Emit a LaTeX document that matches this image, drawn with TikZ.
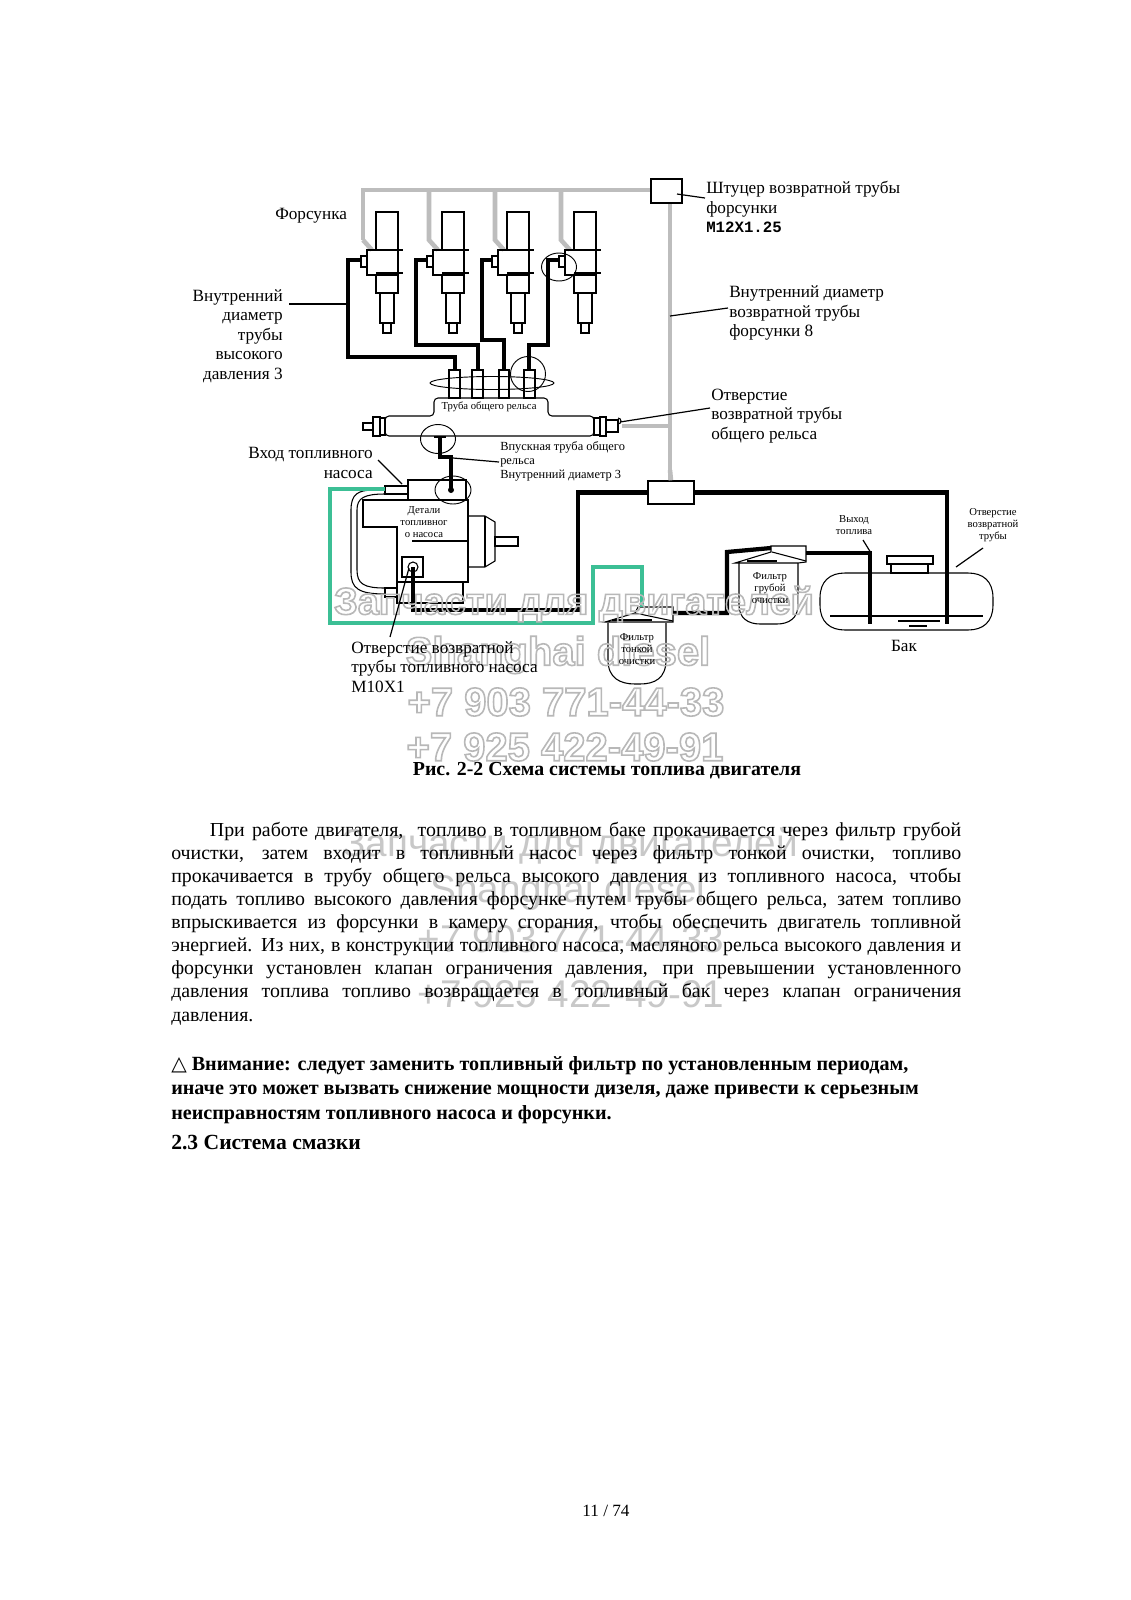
\documentclass[tikz,border=0pt]{standalone}
\usepackage{fontspec}
\setmainfont{Liberation Serif}
\newfontfamily\labelSans{Liberation Sans}
\newfontfamily\labelMono{Liberation Mono}
\newfontfamily\labelSymbol{DejaVu Sans}

\newcommand{\outlineText}[1]{\special{pdf:code 1 Tr 1.2 w 0.72 0.72 0.72 RG}#1\special{pdf:code 0 Tr 0 0 0 RG}}

\begin{document}
\begin{tikzpicture}[x=0.75pt, y=-0.75pt,
    thinPart/.style={draw=black, line width=0.8pt},
    leaderLine/.style={draw=black, line width=0.9pt},
    returnPipe/.style={draw=pipeGrey, line width=3.4pt},
    pressurePipe/.style={draw=black, line width=3.5pt},
    lowPipe/.style={draw=black, line width=3.2pt},
    greenPipe/.style={draw=pipeGreen, line width=3.2pt},
    fittingBox/.style={draw=black, fill=white, line width=1pt, inner sep=0pt},
    largeLabel/.style={inner sep=0pt, font=\fontsize{12.9}{14.7}\selectfont},
    smallLabel/.style={inner sep=0pt, align=center, font=\fontsize{8}{8.9}\selectfont},
    markRing/.style={draw=black, line width=0.7pt},
    waterMark/.style={inner sep=0pt, font=\labelSans\bfseries\fontsize{30}{36}\selectfont},
    fadedMark/.style={inner sep=0pt, text=markGrey, font=\labelSans\fontsize{29}{34}\selectfont}]
    % Define colours
    \definecolor{pipeGrey}{HTML}{BDBDBD}
    \definecolor{pipeGreen}{HTML}{3CBF95}
    \definecolor{markGrey}{HTML}{C8C8C8}

    % Fix the page
    \useasboundingbox (0,0) rectangle (1131,1600);
    \fill[white] (0,0) rectangle (1131,1600);

    % Faded marks behind the body text
    \node[fadedMark, anchor=center] (markPartsLow) at (570,846) {Запчасти для двигателей};
    \node[fadedMark, anchor=center] (markNameLow) at (568,892) {Shanghai diesel};
    \node[fadedMark, anchor=center] (markPhoneOneLow) at (571,939) {+7 903 771-44-33};
    \node[fadedMark, anchor=center] (markPhoneTwoLow) at (571,994) {+7 925 422-49-91};

    % Return rail and its branches
    \draw[returnPipe] (363,240) -- (363,190) -- (652,190);
    \foreach \x in {429,495,561}
        \draw[returnPipe] (\x,190) -- (\x,240) -- (\x+9,250);
    \draw[returnPipe] (363,240) -- (372,250);
    \draw[returnPipe] (670,203) -- (670,481);
    \draw[returnPipe] (622,426) -- (670,426);
    \node[fittingBox, minimum width=23.25pt, minimum height=18pt] (returnFitting) at (666.5,191) {};

    % Draw the injectors
    \foreach \dx in {0,66,131,198} {
        \begin{scope}[shift={(\dx,0)}]
            \draw[thinPart] (376,212) rectangle (398,250);
            \draw[thinPart] (367,250) rectangle (398,275);
            \draw[thinPart] (376,275) rectangle (398,293);
            \draw[thinPart] (380,293) rectangle (394,323);
            \draw[thinPart] (383,323) rectangle (391,333);
            \draw[thinPart] (361,256) rectangle (367,267);
            \draw[line width=1.3pt] (376,250) -- (403,250);
            \draw[line width=1.3pt] (376,273) -- (403,273);
        \end{scope}
    }

    % Draw the high pressure pipes
    \draw[pressurePipe] (361,260) -- (348,260) -- (348,357) -- (455,357) -- (455,370);
    \draw[pressurePipe] (427,260) -- (416,260) -- (416,345) -- (478,345) -- (478,370);
    \draw[pressurePipe] (492,260) -- (482,260) -- (482,340) -- (504,340) -- (504,370);
    \draw[pressurePipe] (559,260) -- (548,260) -- (548,345) -- (529,345) -- (529,370);

    % Draw the common rail
    \draw[thinPart] (449,370) rectangle (460,398);
    \draw[thinPart] (472,370) rectangle (483,398);
    \draw[thinPart] (499,370) rectangle (509,398);
    \draw[thinPart] (524,370) rectangle (535,398);
    \draw[thinPart, rounded corners=3pt] (385,436) -- (385,416) -- (434,416) -- (434,398) -- (548,398) -- (548,416) -- (594,416) -- (594,436) -- cycle;
    \draw[thinPart, line width=1pt] (373,417) rectangle (380,436);
    \draw[thinPart, line width=1pt] (380,418) rectangle (385,435);
    \draw[thinPart] (363,423) rectangle (373,430);
    \draw[thinPart, line width=1pt] (594,418) rectangle (600,435);
    \draw[thinPart, line width=1pt] (600,417) rectangle (606,436);
    \draw[thinPart] (606,420) rectangle (618,432);
    \draw[thinPart] (618,424) arc (90:-90:3);

    % Rings around the pipe ends
    \draw[markRing] (492,383) ellipse (62 and 6.5);
    \draw[markRing] (528,374) circle (17.5);
    \draw[markRing] (559,267) ellipse (17.5 and 14);
    \draw[markRing] (438,439) ellipse (17.5 and 14.5);
    \draw[markRing] (453,490) ellipse (18 and 14);

    % Draw the fuel pump
    \draw[thinPart] (408,480) rectangle (466,500);
    \draw[thinPart] (363,500) -- (468,500) -- (468,582) -- (397,582) -- (397,527) -- (363,527) -- cycle;
    \draw[thinPart] (468,516) -- (485,516) -- (495,522) -- (495,561) -- (485,567) -- (468,567);
    \draw[thinPart] (485,516) -- (485,567);
    \draw[thinPart, line width=1pt] (495,537) rectangle (518,546);
    \draw[thinPart] (412,541) -- (468,541);
    \draw[thinPart] (397,582) rectangle (463,603);
    \draw[thinPart] (385,486) rectangle (408,494);
    \draw[thinPart] (385,588) rectangle (397,597);
    \draw[thinPart] (374,490) .. controls (358,490) and (351,494) .. (351,510) -- (351,572) .. controls (351,588) and (358,594) .. (385,594);
    \draw[thinPart] (385,494) .. controls (364,494) and (357,498) .. (357,510) -- (357,570) .. controls (357,584) and (364,588) .. (385,588);
    \draw[thinPart, line width=1.1pt] (402,557) rectangle (423,577);
    \draw[thinPart, fill=white] (413,567) circle (5);

    % Pipe from the pump up to the rail
    \draw[pressurePipe] (451,490) -- (451,457) -- (440,457) -- (440,437);
    \draw[thinPart, line width=1.6pt] (434,437) -- (446,437);
    \fill (451,490) circle (3);

    % Draw the filters
    \draw[thinPart] (608,623) -- (608,660) .. controls (608,678) and (620,684) .. (635,684) -- (640,684) .. controls (655,684) and (666,678) .. (666,660) -- (666,623);
    \draw[thinPart] (605,622) -- (635,613) -- (638,607) -- (673,607) -- (673,622) -- cycle;
    \draw[thinPart] (635,613) -- (673,621);
    \draw[line width=1pt] (612,620) -- (652,620);
    \draw[thinPart] (739,563) -- (739,605) .. controls (739,618) and (748,624) .. (760,624) -- (777,624) .. controls (789,624) and (798,618) .. (798,605) -- (798,563);
    \draw[thinPart] (735,563) -- (771,552) -- (771,546) -- (806,546) -- (806,562) -- (798,563) -- cycle;
    \draw[thinPart] (772,552) -- (806,561);
    \draw[line width=1pt] (747,561) -- (777,561);

    % Draw the tank
    \draw[thinPart] (820,598) .. controls (820,581) and (830,573) .. (845,573) -- (968,573) .. controls (983,573) and (993,581) .. (993,598) -- (993,605) .. controls (993,622) and (983,630) .. (968,630) -- (845,630) .. controls (830,630) and (820,622) .. (820,605) -- cycle;
    \draw[line width=1pt] (830,616) -- (983,616);
    \draw[line width=1pt] (898,621) -- (940,621);
    \draw[line width=1pt] (909,626) -- (927,626);
    \draw[thinPart, line width=1pt] (887,556) rectangle (933,564);
    \draw[thinPart, line width=1pt] (891,564) rectangle (928,573);

    % Draw the low pressure lines
    \draw[greenPipe] (385,489) -- (330,489) -- (330,623) -- (593,623) -- (593,567) -- (642,567) -- (642,607);
    \node[fittingBox, minimum width=34.5pt, minimum height=17.25pt] (teeBox) at (671,492.5) {};
    \draw[lowPipe] (teeBox.west) -- (578,492.5) -- (578,610) -- (413,610) -- (413,567);
    \draw[lowPipe] (teeBox.east) -- (947,492.5) -- (947,624);
    \draw[lowPipe] (673,613) -- (727,613) -- (727,552) -- (771,548);
    \draw[lowPipe] (806,553) -- (870,553) -- (870,624);
    \draw[returnPipe] (670,470) -- (teeBox.north);

    % Outlined marks over the diagram
    \node[waterMark, anchor=center, font=\labelSans\bfseries\fontsize{28.4}{34}\selectfont] (markParts) at (574,604) {\outlineText{Запчасти для двигателей}};
    \node[waterMark, anchor=center] (markName) at (558,655) {\outlineText{Shanghai diesel}};
    \node[waterMark, anchor=center] (markPhoneOne) at (566,702) {\outlineText{+7 903 771-44-33}};
    \node[waterMark, anchor=center] (markPhoneTwo) at (565,747) {\outlineText{+7 925 422-49-91}};

    % Labels at the injectors
    \node[largeLabel, anchor=west] (lblInjector) at (275,216) {Форсунка};
    \node[largeLabel, anchor=east, align=right] (lblPressureBore) at (283,336) {Внутренний\\диаметр\\трубы\\высокого\\давления 3};
    \node[largeLabel, anchor=west, align=left] (lblFitting) at (706,207) {Штуцер возвратной трубы\\форсунки\\{\labelMono\bfseries\fontsize{11.8}{14.7}\selectfont M12X1.25}};
    \node[largeLabel, anchor=west, align=left] (lblReturnBore) at (729,313) {Внутренний диаметр\\возвратной трубы\\форсунки 8};
    \node[largeLabel, anchor=west, align=left] (lblRailReturn) at (711,416) {Отверстие\\возвратной трубы\\общего рельса};
    \node[largeLabel, anchor=east, align=right] (lblPumpInlet) at (373,463) {Вход топливного\\насоса};
    \node[largeLabel, anchor=west, align=left] (lblPumpReturn) at (351,667) {Отверстие возвратной\\трубы топливного насоса\\M10X1};
    \node[largeLabel, anchor=center] (lblTank) at (904,646) {Бак};
    \node[smallLabel] (lblRail) at (489,407) {Труба общего рельса};
    \node[smallLabel, anchor=west, align=left, font=\fontsize{9.3}{10.5}\selectfont] (lblRailInlet) at (500,461) {Впускная труба общего\\рельса\\Внутренний диаметр 3};
    \node[smallLabel] (lblPump) at (424,522) {Детали\\топливног\\о насоса};
    \node[smallLabel] (lblFineFilter) at (637,649) {Фильтр\\тонкой\\очистки};
    \node[smallLabel] (lblCoarseFilter) at (770,588) {Фильтр\\грубой\\очистки};
    \node[smallLabel] (lblOutlet) at (854,525) {Выход\\топлива};
    \node[smallLabel] (lblVent) at (993,525) {Отверстие\\возвратной\\трубы};

    % Define coordinates for the free leader ends
    \coordinate (pipeOne) at (348,304);
    \coordinate (fittingEnd) at (677,194);
    \coordinate (returnEnd) at (670,316);
    \coordinate (railEnd) at (620,422);
    \coordinate (inletEnd) at (402,484);
    \coordinate (riserEnd) at (453,458);
    \coordinate (pumpEnd) at (409,568);
    \coordinate (outletEnd) at (871,553);
    \coordinate (ventEnd) at (956,567);

    % Draw the leaders
    \draw[leaderLine] (289,304) -- (pipeOne);
    \draw[leaderLine] (705,198) -- (fittingEnd);
    \draw[leaderLine] (728,308) -- (returnEnd);
    \draw[leaderLine] (710,408) -- (railEnd);
    \draw[leaderLine] (378,460) -- (inletEnd);
    \draw[leaderLine] (499,462) -- (riserEnd);
    \draw[leaderLine] (390,637) -- (pumpEnd);
    \draw[leaderLine] (863,540) -- (outletEnd);
    \draw[leaderLine] (983,548) -- (ventEnd);

    % Caption and body text
    \node[inner sep=0pt, font=\bfseries\fontsize{14.9}{17}\selectfont] (caption) at (607,771) {Рис. 2-2 Схема системы топлива двигателя};
    \node[inner sep=0pt, anchor=north west, text width=592.5pt, align=justify, font=\fontsize{14.9}{17.3}\selectfont] (bodyText) at (171,822) {%
        \hspace*{29pt}При работе двигателя,\ \ топливо в топливном баке прокачивается через фильтр грубой\linebreak
        очистки, затем входит в топливный насос через фильтр тонкой очистки, топливо\linebreak
        прокачивается в трубу общего рельса высокого давления из топливного насоса, чтобы\linebreak
        подать топливо высокого давления форсунке путем трубы общего рельса, затем топливо\linebreak
        впрыскивается из форсунки в камеру сгорания, чтобы обеспечить двигатель топливной\linebreak
        энергией. Из них, в конструкции топливного насоса, масляного рельса высокого давления и\linebreak
        форсунки установлен клапан ограничения давления, при превышении установленного\linebreak
        давления топлива топливо возвращается в топливный бак через клапан ограничения\linebreak
        давления.};
    \node[inner sep=0pt, anchor=north west, align=left, font=\bfseries\fontsize{15.1}{18.4}\selectfont] (warningText) at (171,1056) {%
        {\labelSymbol\mdseries △} Внимание: следует заменить топливный фильтр по установленным периодам,\\
        иначе это может вызвать снижение мощности дизеля, даже привести к серьезным\\
        неисправностям топливного насоса и форсунки.};
    \node[inner sep=0pt, anchor=west, font=\bfseries\fontsize{16.2}{18}\selectfont] (sectionTitle) at (171,1142) {2.3 Система смазки};
    \node[inner sep=0pt, font=\fontsize{12.9}{14}\selectfont] (pageNumber) at (606,1511) {11 / 74};

\end{tikzpicture}
\end{document}
